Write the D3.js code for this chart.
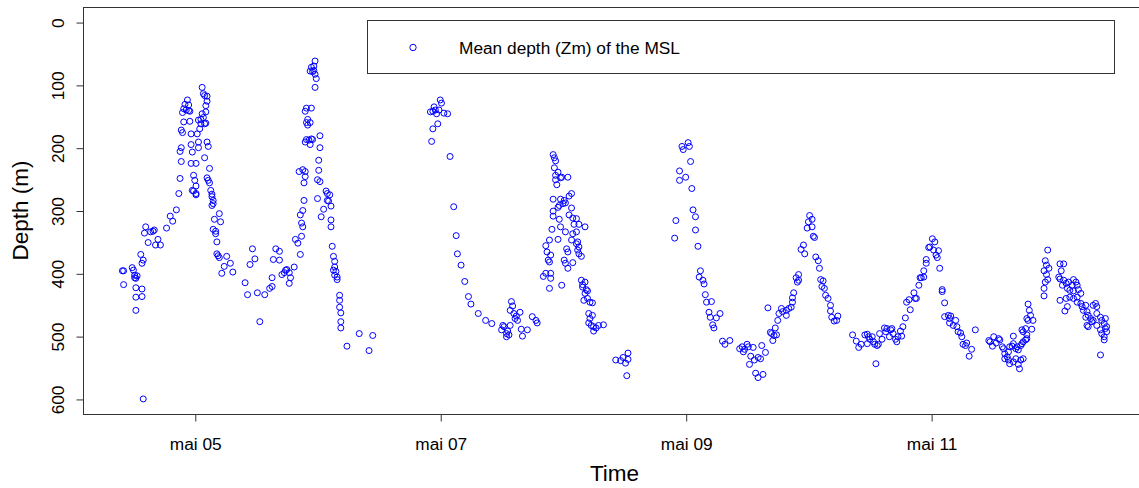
<!DOCTYPE html>
<html>
<head>
<meta charset="utf-8">
<script src="https://cdn.jsdelivr.net/npm/d3@7"></script>
<style>
  html, body { margin: 0; padding: 0; background: #fff; }
  svg { display: block; font-family: "Liberation Sans", Arial, sans-serif; }
</style>
</head>
<body>
<svg id="chart" width="1139" height="488"></svg>
<script>
// Mean depth of the mesopelagic scattering layer, [day of May, depth in m]
const may04 = [[4.41,396],[4.42,396],[4.42,418],[4.49,391],[4.50,395],[4.51,403],[4.51,407],[4.52,408],[4.53,404],[4.52,423],[4.57,425],[4.52,438],[4.57,437],[4.52,459],[4.56,370],[4.58,379],[4.57,384],[4.58,600],[4.60,326],[4.59,336],[4.62,351],[4.64,334],[4.66,333],[4.67,331],[4.68,355],[4.70,346],[4.72,355],[4.77,328],[4.80,309],[4.82,317],[4.85,299],[4.87,273],[4.88,249],[4.89,222],[4.88,206],[4.89,200],[4.89,172],[4.90,176],[4.91,159],[4.90,144],[4.91,138],[4.92,131],[4.94,124],[4.95,132],[4.93,140],[4.95,141],[4.96,142],[4.96,158],[4.97,178],[4.97,195],[4.98,207],[4.97,225],[4.99,244],[4.98,268],[4.99,269]];
const may05 = [[5.01,225],[5.00,252],[5.01,261],[5.01,273],[5.01,275],[5.02,178],[5.03,191],[5.03,200],[5.03,156],[5.05,155],[5.04,170],[5.05,162],[5.07,152],[5.08,162],[5.06,146],[5.09,143],[5.09,133],[5.10,126],[5.08,117],[5.10,118],[5.06,104],[5.07,114],[5.09,161],[5.08,216],[5.10,191],[5.11,198],[5.12,233],[5.10,248],[5.11,252],[5.12,256],[5.13,268],[5.14,274],[5.14,278],[5.15,284],[5.15,289],[5.14,292],[5.20,305],[5.16,314],[5.21,318],[5.15,330],[5.17,333],[5.17,337],[5.18,350],[5.18,369],[5.19,372],[5.20,375],[5.26,373],[5.24,389],[5.22,400],[5.29,384],[5.31,398],[5.41,415],[5.43,434],[5.47,361],[5.45,386],[5.49,377],[5.51,431],[5.57,434],[5.53,477],[5.61,424],[5.63,421],[5.63,407],[5.66,361],[5.69,365],[5.64,378],[5.69,379],[5.71,402],[5.73,399],[5.74,395],[5.75,394],[5.77,399],[5.78,407],[5.77,416],[5.81,390],[5.82,346],[5.84,352],[5.86,370],[5.87,341],[5.88,326],[5.87,320],[5.88,300],[5.86,307],[5.89,284],[5.85,238],[5.88,235],[5.90,238],[5.90,246],[5.89,256],[5.90,191],[5.91,187],[5.93,188],[5.95,186],[5.94,195],[5.96,187],[5.91,160],[5.92,164],[5.94,160],[5.92,155],[5.90,142],[5.91,137],[5.95,137],[5.94,78],[5.96,79],[5.97,77],[5.95,72],[5.97,70],[5.98,62],[5.98,83],[5.99,90],[5.98,104]];
const may06 = [[6.02,181],[6.02,200],[6.01,220],[6.01,236],[6.00,251],[6.02,254],[6.00,281],[6.07,269],[6.08,273],[6.10,275],[6.08,284],[6.09,285],[6.11,293],[6.05,298],[6.03,310],[6.11,315],[6.11,326],[6.12,357],[6.13,373],[6.14,381],[6.14,390],[6.13,395],[6.15,397],[6.14,403],[6.16,406],[6.16,410],[6.18,435],[6.18,443],[6.18,454],[6.19,463],[6.19,477],[6.19,487],[6.24,516],[6.34,496],[6.42,523],[6.45,499],[6.93,190],[6.94,170],[6.98,162],[6.92,143],[6.94,142],[6.95,135],[6.97,146],[6.96,140],[6.99,140]];
const may07 = [[7.00,124],[7.01,129],[7.03,145],[7.06,146],[7.08,214],[7.11,294],[7.13,340],[7.14,369],[7.17,387],[7.20,413],[7.23,437],[7.25,449],[7.31,464],[7.37,475],[7.42,480],[7.51,483],[7.52,485],[7.50,490],[7.54,496],[7.56,498],[7.54,501],[7.57,483],[7.55,492],[7.58,445],[7.59,452],[7.57,459],[7.60,464],[7.62,468],[7.65,462],[7.63,475],[7.61,472],[7.66,489],[7.71,490],[7.67,500],[7.75,469],[7.78,475],[7.79,479],[7.92,211],[7.93,216],[7.94,221],[7.93,232],[7.96,239],[7.94,244],[7.98,248],[7.99,247],[7.94,251],[7.95,259],[7.92,282],[7.98,282],[7.97,292],[7.96,295],[7.92,301],[7.92,309],[7.97,314],[7.98,326],[7.91,330],[7.89,347],[7.86,356],[7.87,366],[7.90,371],[7.88,379],[7.89,382],[7.96,346],[7.86,400],[7.84,405],[7.90,400],[7.90,408],[7.89,424],[7.99,419]];
const may08 = [[8.04,247],[8.01,284],[8.00,289],[8.07,273],[8.05,277],[8.02,288],[8.05,307],[8.07,296],[8.08,312],[8.11,313],[8.09,322],[8.13,322],[8.18,326],[8.02,334],[8.08,337],[8.11,334],[8.03,361],[8.04,366],[8.07,347],[8.11,353],[8.12,350],[8.13,358],[8.12,363],[8.13,369],[8.15,373],[8.01,379],[8.02,384],[8.08,383],[8.04,392],[8.15,411],[8.16,418],[8.18,414],[8.16,422],[8.19,426],[8.18,432],[8.20,428],[8.17,443],[8.22,446],[8.24,447],[8.20,440],[8.21,464],[8.24,467],[8.22,472],[8.21,479],[8.23,483],[8.25,485],[8.27,487],[8.29,483],[8.33,482],[8.25,492],[8.43,538],[8.47,539],[8.49,534],[8.53,527],[8.51,543],[8.53,537],[8.52,563],[8.91,344],[8.92,316],[8.95,252],[8.95,237],[8.97,198],[8.98,203]];
const may09 = [[9.00,247],[9.02,192],[9.03,198],[9.04,222],[9.05,265],[9.06,299],[9.08,310],[9.08,331],[9.10,357],[9.12,396],[9.11,406],[9.14,411],[9.15,417],[9.16,434],[9.17,446],[9.21,445],[9.19,462],[9.20,470],[9.25,471],[9.28,464],[9.22,482],[9.23,487],[9.30,508],[9.32,513],[9.36,507],[9.44,520],[9.46,517],[9.48,521],[9.50,513],[9.47,525],[9.51,517],[9.55,518],[9.53,532],[9.56,538],[9.59,534],[9.61,536],[9.52,545],[9.57,559],[9.59,566],[9.63,561],[9.62,515],[9.65,526],[9.67,455],[9.69,494],[9.70,496],[9.71,507],[9.72,499],[9.73,487],[9.74,498],[9.75,475],[9.76,464],[9.78,456],[9.79,461],[9.82,467],[9.82,459],[9.84,456],[9.86,454],[9.87,446],[9.88,431],[9.87,439],[9.90,407],[9.91,414],[9.92,402],[9.92,411],[9.94,362],[9.96,355],[9.97,369],[9.99,328]];
const may10 = [[10.00,318],[10.01,308],[10.03,314],[10.03,326],[10.04,341],[10.05,343],[10.06,374],[10.08,380],[10.09,392],[10.10,410],[10.12,412],[10.11,421],[10.13,424],[10.14,435],[10.16,440],[10.18,451],[10.18,460],[10.19,470],[10.21,476],[10.24,468],[10.23,475],[10.36,498],[10.39,508],[10.41,518],[10.43,513],[10.46,498],[10.48,497],[10.49,501],[10.50,505],[10.48,512],[10.53,509],[10.54,513],[10.56,515],[10.52,501],[10.55,544],[10.57,513],[10.58,496],[10.60,505],[10.62,487],[10.63,493],[10.64,488],[10.67,490],[10.68,488],[10.66,501],[10.69,496],[10.71,505],[10.72,509],[10.73,501],[10.76,500],[10.75,492],[10.77,485],[10.79,471],[10.80,446],[10.82,442],[10.83,458],[10.86,431],[10.87,440],[10.88,440],[10.90,419],[10.91,407],[10.92,407],[10.94,406],[10.94,396],[10.96,384],[10.96,378],[10.98,359],[10.99,358]];
const may11 = [[11.01,345],[11.02,363],[11.03,350],[11.04,371],[11.05,375],[11.06,364],[11.07,392],[11.09,429],[11.09,426],[11.11,447],[11.11,469],[11.14,467],[11.15,472],[11.16,468],[11.15,479],[11.18,483],[11.20,475],[11.21,485],[11.22,493],[11.24,495],[11.25,501],[11.26,513],[11.28,515],[11.29,511],[11.31,532],[11.33,521],[11.36,490],[11.47,507],[11.48,509],[11.51,501],[11.53,511],[11.55,504],[11.56,506],[11.50,516],[11.58,517],[11.59,520],[11.60,528],[11.62,533],[11.63,525],[11.64,517],[11.66,516],[11.67,512],[11.69,520],[11.70,517],[11.71,522],[11.73,515],[11.74,512],[11.75,509],[11.77,506],[11.78,504],[11.60,536],[11.63,538],[11.64,544],[11.67,541],[11.69,536],[11.71,545],[11.72,552],[11.73,538],[11.75,536],[11.67,500],[11.74,490],[11.75,493],[11.77,488],[11.79,475],[11.81,467],[11.78,472],[11.80,459],[11.79,449],[11.82,489],[11.83,475],[11.78,498],[11.95,363],[11.93,380],[11.94,387],[11.96,392],[11.92,396],[11.94,402],[11.95,410],[11.93,414],[11.92,424],[11.92,436]];
const may12 = [[12.05,385],[12.08,385],[12.06,396],[12.04,406],[12.05,409],[12.08,411],[12.07,419],[12.10,416],[12.12,414],[12.16,410],[12.18,414],[12.15,419],[12.19,419],[12.11,424],[12.13,427],[12.16,428],[12.20,426],[12.22,432],[12.19,438],[12.16,440],[12.13,438],[12.10,440],[12.05,443],[12.11,453],[12.09,460],[12.19,446],[12.22,448],[12.23,453],[12.26,451],[12.24,459],[12.27,461],[12.28,467],[12.26,470],[12.30,472],[12.31,477],[12.27,483],[12.28,485],[12.32,451],[12.34,448],[12.35,453],[12.35,464],[12.32,475],[12.35,483],[12.38,470],[12.39,475],[12.41,480],[12.42,472],[12.43,485],[12.38,490],[12.39,496],[12.41,501],[12.42,488],[12.43,493],[12.41,506],[12.38,530]];

const tickDays = [5, 7, 9, 11];
const depthTicks = [0, 100, 200, 300, 400, 500, 600];
const depthLimits = [0, 600];
const seriesLabel = "Mean depth (Zm) of the MSL";
const xTitle = "Time";
const yTitle = "Depth (m)";

const frLocale = d3.timeFormatLocale({
  dateTime: "%A %e %B %Y à %X", date: "%d/%m/%Y", time: "%H:%M:%S",
  periods: ["AM", "PM"],
  days: ["dimanche","lundi","mardi","mercredi","jeudi","vendredi","samedi"],
  shortDays: ["dim.","lun.","mar.","mer.","jeu.","ven.","sam."],
  months: ["janvier","février","mars","avril","mai","juin","juillet","août","septembre","octobre","novembre","décembre"],
  shortMonths: ["janv.","févr.","mars","avr.","mai","juin","juil.","août","sept.","oct.","nov.","déc."]
});
const fmt = frLocale.utcFormat("%b %d");

const dayToDate = d => new Date(Date.UTC(2016, 4, 1) + (d - 1) * 864e5);
const obs = [may04, may05, may06, may07, may08, may09, may10, may11, may12]
  .flat().map(([d, z]) => ({ t: dayToDate(d), z }));

// plot region
const plotL = 83, plotR = 1146, plotT = 7, plotB = 414;
const pad = 0.04;

const tExt = d3.extent(obs, d => +d.t);
const tSpan = tExt[1] - tExt[0];
const x = d3.scaleUtc()
  .domain([new Date(tExt[0] - pad * tSpan), new Date(tExt[1] + pad * tSpan)])
  .range([plotL, plotR]);

const zSpan = depthLimits[1] - depthLimits[0];
const y = d3.scaleLinear()
  .domain([depthLimits[0] - pad * zSpan, depthLimits[1] + pad * zSpan])
  .range([plotT, plotB]);

const svg = d3.select("#chart");

// points
svg.append("g")
  .selectAll("circle")
  .data(obs)
  .join("circle")
  .attr("cx", d => x(d.t))
  .attr("cy", d => y(d.z))
  .attr("r", 3)
  .attr("fill", "none")
  .attr("stroke", "#0000ff")
  .attr("stroke-width", 1);

// box
svg.append("rect")
  .attr("x", plotL + 0.5).attr("y", plotT + 0.5)
  .attr("width", plotR - plotL).attr("height", plotB - plotT)
  .attr("fill", "none").attr("stroke", "#333").attr("stroke-width", 1);

// x axis
const xAxis = svg.append("g")
  .attr("transform", `translate(0.5,${plotB + 0.5})`)
  .call(d3.axisBottom(x)
    .tickValues(tickDays.map(dayToDate))
    .tickFormat(fmt)
    .tickSize(7)
    .tickPadding(16));
xAxis.select(".domain").remove();
xAxis.selectAll("line").attr("stroke", "#333");
xAxis.selectAll("text")
  .attr("font-family", "'Liberation Sans', Arial, sans-serif")
  .attr("font-size", 17.3).attr("fill", "#000");

// y axis
const yAxis = svg.append("g")
  .attr("transform", `translate(${plotL + 0.5},0.5)`)
  .call(d3.axisLeft(y).tickValues(depthTicks).tickSize(7).tickFormat(d3.format("d")));
yAxis.select(".domain").remove();
yAxis.selectAll("line").attr("stroke", "#333");
yAxis.selectAll("text")
  .attr("font-family", "'Liberation Sans', Arial, sans-serif")
  .attr("font-size", 17.3).attr("fill", "#000")
  .attr("x", null).attr("dy", null)
  .attr("text-anchor", "middle")
  .attr("transform", `translate(-20,0) rotate(-90)`);

// axis titles
svg.append("text")
  .attr("x", (plotL + plotR) / 2).attr("y", 481)
  .attr("text-anchor", "middle")
  .attr("font-size", 22.5).attr("fill", "#000")
  .text(xTitle);
svg.append("text")
  .attr("transform", `translate(28,${(plotT + plotB) / 2}) rotate(-90)`)
  .attr("text-anchor", "middle")
  .attr("font-size", 22.5).attr("fill", "#000")
  .text(yTitle);

// legend
const lg = svg.append("g");
lg.append("rect")
  .attr("x", 367.5).attr("y", 20.5).attr("width", 747).attr("height", 53)
  .attr("fill", "#fff").attr("stroke", "#333").attr("stroke-width", 1);
lg.append("circle")
  .attr("cx", 413).attr("cy", 47.5).attr("r", 3.2)
  .attr("fill", "none").attr("stroke", "#0000ff");
lg.append("text")
  .attr("x", 459).attr("y", 53.5)
  .attr("font-size", 17.3).attr("fill", "#000")
  .text(seriesLabel);
</script>
</body>
</html>
